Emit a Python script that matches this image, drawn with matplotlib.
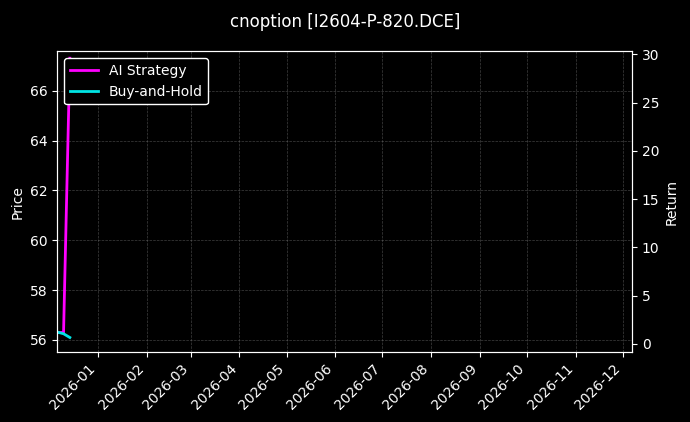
import matplotlib
matplotlib.use("Agg")
import matplotlib.pyplot as plt
import matplotlib.dates as mdates
import pandas as pd

dates = pd.to_datetime(["2025-12-07", "2025-12-10", "2025-12-14"])
ai_strategy = [56.3, 56.3, 67.3]
buy_hold = [56.3, 56.25, 56.1]

plt.style.use("dark_background")
fig = plt.figure(figsize=(6.9, 4.22), dpi=100)
ax = fig.add_axes([0.083, 0.166, 0.833, 0.712])
ax.plot(dates, ai_strategy, color="#ff00ff", lw=2, label="AI Strategy")
ax.plot(dates, buy_hold, color="#00e5e5", lw=2, label="Buy-and-Hold")
ax.set_ylim(55.52, 67.57)
ax.set_xlim(pd.Timestamp("2025-12-06"), pd.Timestamp("2026-12-07"))
ax.set_ylabel("Price")
ax.grid(True, color="gray", ls="--", lw=0.5, alpha=0.5)
ax.xaxis.set_major_locator(mdates.MonthLocator())
ax.xaxis.set_major_formatter(mdates.DateFormatter("%Y-%m"))
plt.setp(ax.get_xticklabels(), rotation=45, ha="right")
ax2 = ax.twinx()
ax2.set_ylim(-0.83, 30.3)
ax2.set_ylabel("Return")
ax.legend(loc="upper left", facecolor="black", edgecolor="white", framealpha=1)
fig.suptitle("cnoption [I2604-P-820.DCE]", y=0.97)
fig.savefig("out.png", facecolor="black")
